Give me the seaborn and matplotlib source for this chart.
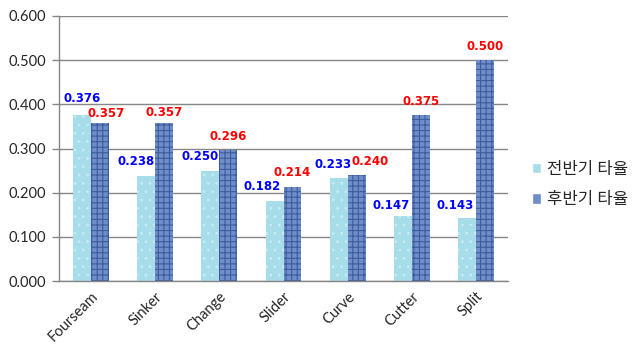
import numpy as np
import pandas as pd
import matplotlib
matplotlib.use("Agg")
import matplotlib.pyplot as plt
import seaborn as sns

# data
pitches = ["Fourseam", "Sinker", "Change", "Slider", "Curve", "Cutter", "Split"]
first_half = [0.376, 0.238, 0.250, 0.182, 0.233, 0.147, 0.143]
second_half = [0.357, 0.357, 0.296, 0.214, 0.240, 0.375, 0.500]
series_names = ["전반기 타율", "후반기 타율"]

df = pd.DataFrame({
    "pitch": pitches * 2,
    "avg": first_half + second_half,
    "half": [series_names[0]] * len(pitches) + [series_names[1]] * len(pitches),
})

sns.set_style("white")
plt.rcParams["font.family"] = ["Lato", "Noto Sans CJK KR", "DejaVu Sans"]
plt.rcParams["hatch.linewidth"] = 0.8

fig = plt.figure(figsize=(6.4, 3.6), dpi=100)
ax = fig.add_axes([0.092, 0.219, 0.702, 0.737])

face = ["#a6dde8", "#6f8dc9"]
hatch_col = ["#c4ecf2", "#3e5c9c"]
hatches = ["..", "+++"]

sns.barplot(data=df, x="pitch", y="avg", hue="half", palette=face,
            width=0.56, gap=0, saturation=1, ax=ax, legend=True)

# label placement, in pixels, like the hand-moved labels of the original
label_col = ["#0000ff", "#ff0000"]
label_dx = [[0, -10, -10, -12, -6, -12, -12],
            [6, 0, 0, 0, 13, 0, 0]]
label_dy = [[16, 14, 14, 14, 14, 11, 12],
            [10, 11, 14, 14, 14, 14, 14]]
for i, cont in enumerate(ax.containers):
    for j, p in enumerate(cont.patches):
        p.set_hatch(hatches[i])
        p.set_edgecolor(hatch_col[i])
        p.set_linewidth(0)
        h = p.get_height()
        ax.annotate(f"{h:.3f}", (p.get_x() + p.get_width() / 2, h),
                    xytext=(label_dx[i][j], label_dy[i][j]), textcoords="offset pixels",
                    ha="center", va="center", color=label_col[i],
                    fontsize=8.5, fontweight="bold", family="DejaVu Sans")

ax.set_ylim(0, 0.6)
ax.set_yticks(np.arange(0, 0.61, 0.1))
ax.set_yticklabels([f"{v:.3f}" for v in np.arange(0, 0.61, 0.1)], fontsize=10.5)
ax.set_xlim(-0.5, len(pitches) - 0.5)
ax.set_xticks(range(len(pitches)))
ax.set_xticklabels(pitches, rotation=45, ha="right", rotation_mode="anchor", fontsize=10.5)
ax.set_xticks(np.arange(-0.5, len(pitches), 1), minor=True)
ax.tick_params(axis="x", which="major", length=0, pad=6)
ax.tick_params(axis="x", which="minor", length=5, color="#868686", width=1)
ax.tick_params(axis="y", length=5, color="#868686", width=1, left=True, pad=4)
ax.set_xlabel("")
ax.set_ylabel("")

ax.yaxis.grid(True, color="#868686", linewidth=1)
ax.set_axisbelow(True)
for s in ["top", "right"]:
    ax.spines[s].set_visible(False)
for s in ["left", "bottom"]:
    ax.spines[s].set_color("#868686")
    ax.spines[s].set_linewidth(1)

leg = ax.legend(loc="center left", bbox_to_anchor=(1.02, 0.365), frameon=False,
                fontsize=12, handlelength=0.55, handleheight=0.55,
                handletextpad=0.35, labelspacing=0.85)

fig.savefig("out.png", dpi=100)
